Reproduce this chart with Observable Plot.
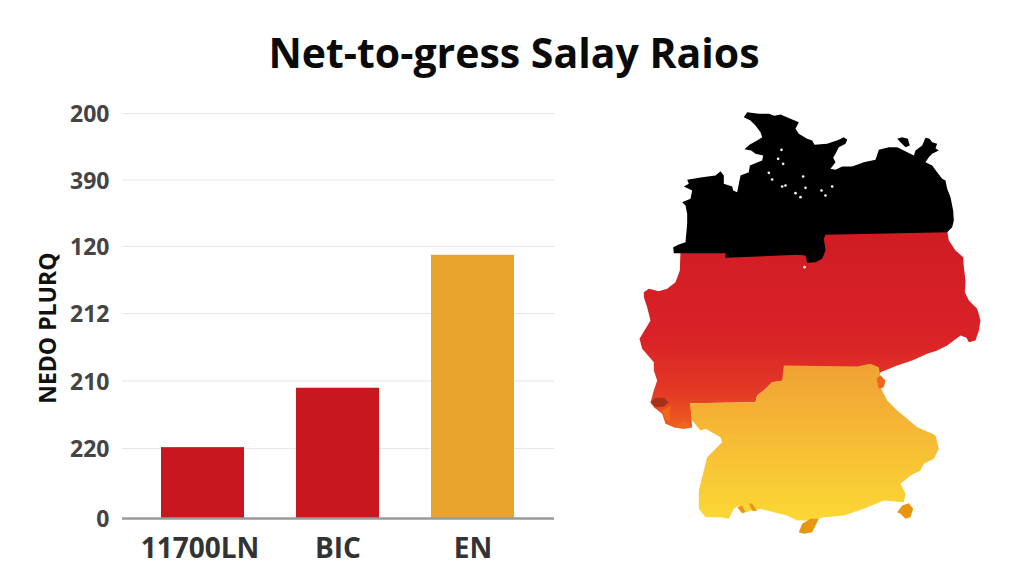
<!DOCTYPE html>
<html>
<head>
<meta charset="utf-8">
<script src="https://cdn.jsdelivr.net/npm/d3@7"></script>
<script src="https://cdn.jsdelivr.net/npm/@observablehq/plot@0.6"></script>
<style>
  html, body { margin: 0; padding: 0; background: #fff; width: 1024px; height: 585px; overflow: hidden; }
  #title { height: 90px; box-sizing: border-box; padding: 29px 0 0 4px; text-align: center;
    font: 700 41px/46px "Open Sans", sans-serif; color: #0a0a0a; }
  #row { display: flex; align-items: flex-start; }
  #map { margin-top: 10px; }
  svg { display: block; }
</style>
</head>
<body>
<div id="title"></div>
<div id="row"><div id="bars"></div><div id="map"></div></div>
<script>
const titleText = "Net-to-gress Salay Raios";
const axisTitle = "NEDO PLURQ";
const categories = ["11700LN", "BIC", "EN"];
const barValues = [1.05, 1.93, 3.9];
const barColors = ["#c91720", "#c91720", "#e8a42c"];
const yTickLabels = ["0", "220", "210", "212", "120", "390", "200"];
const yTickValues = [0, 1.037, 2.036, 3.037, 4.03, 5.015, 6];

// Map outlines, in the map's own units (north at small y)
const blackRing = [[340,50],[350,35],[385,40],[415,40],[432,46],[450,42],[480,55],[505,65],[495,85],[505,100],[530,115],[545,120],[552,133],[590,130],[625,118],[640,110],[650,118],[645,130],[625,140],[615,160],[608,172],[615,185],[600,205],[615,208],[635,198],[665,198],[700,185],[735,178],[745,148],[775,140],[800,140],[820,150],[850,165],[855,150],[875,135],[885,112],[897,115],[905,125],[920,130],[915,143],[925,150],[905,160],[895,170],[885,185],[905,195],[920,215],[935,235],[945,240],[950,265],[960,290],[968,330],[970,360],[965,380],[950,395],[585,403],[580,415],[585,450],[575,475],[555,485],[530,487],[525,465],[500,463],[285,472],[285,458],[130,458],[128,440],[145,432],[165,425],[170,370],[170,340],[165,315],[155,305],[180,295],[185,270],[160,258],[175,250],[170,238],[215,230],[255,225],[270,212],[280,225],[280,250],[305,258],[308,270],[320,275],[330,225],[355,215],[358,195],[395,180],[398,165],[375,160],[362,150],[342,146],[358,132],[380,120],[395,110],[390,95],[375,75],[360,60],[340,50]];
const isletRing = [[800,115],[815,110],[832,115],[838,135],[825,140],[810,125],[800,115]];
const redRing = [[150,450],[585,395],[950,390],[955,420],[975,450],[998,470],[1000,500],[1005,540],[1003,575],[1015,600],[1040,625],[1050,660],[1045,690],[1035,720],[1015,725],[1008,712],[990,705],[950,735],[920,750],[890,760],[845,780],[800,795],[750,815],[740,840],[745,860],[760,865],[700,850],[460,840],[425,845],[405,865],[380,885],[375,905],[180,908],[185,980],[160,985],[130,980],[105,970],[95,940],[70,920],[60,905],[70,870],[80,840],[70,810],[70,785],[35,745],[27,715],[60,660],[50,620],[40,590],[40,575],[55,565],[85,572],[110,565],[135,545],[148,510],[150,450]];
const yellowRing = [[460,795],[680,798],[720,790],[745,800],[750,830],[750,860],[770,900],[800,930],[830,955],[860,980],[905,1000],[915,1005],[925,1045],[910,1075],[880,1090],[870,1110],[840,1125],[810,1150],[825,1180],[820,1205],[760,1200],[700,1225],[640,1245],[580,1250],[540,1260],[500,1260],[470,1245],[430,1235],[390,1225],[365,1230],[345,1235],[325,1215],[310,1225],[295,1255],[270,1250],[250,1250],[225,1250],[205,1225],[205,1170],[225,1090],[230,1070],[275,1025],[270,1010],[225,985],[210,990],[185,960],[178,908],[375,905],[380,885],[405,865],[425,845],[455,840],[460,795]];
const patchRings = [
  [[505,1295],[515,1270],[540,1255],[565,1255],[555,1275],[545,1295],[520,1300],[505,1295]],
  [[800,1235],[815,1215],[835,1208],[848,1225],[840,1250],[825,1255],[810,1240],[800,1235]],
  [[320,1220],[335,1215],[345,1235],[335,1238],[320,1220]],
  [[355,1208],[365,1210],[380,1232],[365,1230],[355,1208]]
];
const patchColor = "#e8960f";
const emberRings = [
  [[738,835],[750,825],[765,840],[760,860],[745,865],[738,835]],
  [[120,915],[118,960],[105,960],[95,930],[120,915]],
  [[130,980],[160,960],[185,980],[160,985],[130,980]]
];
const emberColor = "#f0661c";
const scorchRing = [[60,905],[75,892],[100,892],[115,905],[100,918],[75,920],[60,905]];
const scorchColor = "#a8301a";
const holeX = [453,443,458,415,425,465,455,495,510,518,525,573,585,605,522];
const holeY = [148,175,190,217,237,255,258,278,290,228,262,270,285,258,500];

document.getElementById("title").textContent = titleText;

const polygon = (ring) => ({type: "Polygon", coordinates: [ring]});

const defs = () => {
  const ns = "http://www.w3.org/2000/svg";
  const d = document.createElementNS(ns, "defs");
  d.innerHTML = `
    <linearGradient id="redFade" x1="0" y1="0" x2="0" y2="1">
      <stop offset="0" stop-color="#cf1c23"/><stop offset="0.55" stop-color="#da2227"/>
      <stop offset="0.82" stop-color="#e33a25"/><stop offset="1" stop-color="#f0601c"/>
    </linearGradient>
    <linearGradient id="yellowFade" x1="0" y1="0" x2="0" y2="1">
      <stop offset="0" stop-color="#efa134"/><stop offset="0.5" stop-color="#f7bc35"/>
      <stop offset="1" stop-color="#fbd835"/>
    </linearGradient>`;
  return d;
};

const labelShift = [-3, 0, 0];
const font = "'Open Sans', sans-serif";

const barChart = Plot.plot({
  width: 630, height: 495,
  marginLeft: 122, marginRight: 76, marginTop: 23, marginBottom: 67,
  x: {domain: categories, paddingInner: 0.385, paddingOuter: 0.2925, axis: null},
  y: {domain: [0, 6], axis: null},
  color: {domain: categories, range: barColors},
  style: {background: "#fff"},
  marks: [
    Plot.ruleY(yTickValues.slice(1), {stroke: "#e6e6e6", strokeWidth: 1, strokeOpacity: 1}),
    Plot.barY(categories.map((c, i) => ({c, v: barValues[i]})), {x: "c", y: "v", fill: "c"}),
    Plot.ruleY([0], {stroke: "#9a9a9a", strokeWidth: 2.5}),
    Plot.axisY({
      ticks: yTickValues, tickSize: 0, tickPadding: 0, label: null,
      tickFormat: (v) => yTickLabels[yTickValues.indexOf(v)], marginLeft: 122, dx: -13, dy: 1.5,
      fontSize: 23, fontWeight: 700, fontFamily: font, fill: "#444"
    }),
    Plot.text([1.7], {
      y: (d) => d, text: () => axisTitle, frameAnchor: "left", rotate: -90, dx: -74,
      fontSize: 23, fontWeight: 700, fontFamily: font, fill: "#111"
    }),
    ...categories.map((c, i) => Plot.text([c], {
      x: (d) => d, text: (d) => d, frameAnchor: "bottom", dy: 39, dx: labelShift[i],
      fontSize: 28, fontWeight: 700, fontFamily: font, fill: "#333"
    }))
  ]
});
document.getElementById("bars").append(barChart);

const mapChart = Plot.plot({
  width: 394, height: 440, margin: 0,
  projection: d3.geoIdentity().scale(1 / 3),
  style: {background: "#fff"},
  marks: [
    defs,
    Plot.geo([polygon(redRing)], {fill: "url(#redFade)"}),
    Plot.geo([polygon(scorchRing)], {fill: scorchColor}),
    Plot.geo([polygon(yellowRing)], {fill: "url(#yellowFade)"}),
    ...emberRings.map((r) => Plot.geo([polygon(r)], {fill: emberColor})),
    ...patchRings.map((r) => Plot.geo([polygon(r)], {fill: patchColor})),
    Plot.geo([polygon(blackRing), polygon(isletRing)], {fill: "#000"}),
    Plot.dot(holeX.map((x, i) => [x, holeY[i]]), {x: "0", y: "1", r: 1.3, fill: "#fff"})
  ]
});
document.getElementById("map").append(mapChart);
</script>
</body>
</html>
